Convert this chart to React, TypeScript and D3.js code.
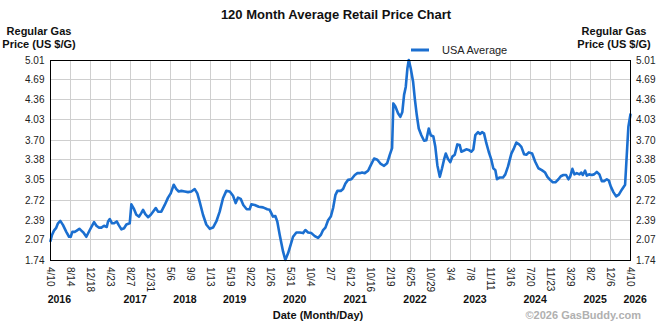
import React from "react";
import * as d3 from "d3";

const TITLE = "120 Month Average Retail Price Chart";
const SERIES_NAME = "USA Average";
const Y_TITLE = ["Regular Gas", "Price (US $/G)"];
const X_TITLE = "Date (Month/Day)";
const CREDIT = "\u00A92026 GasBuddy.com";

const Y_TICKS = [1.74, 2.07, 2.39, 2.72, 3.05, 3.38, 3.7, 4.03, 4.36, 4.69, 5.01];

const X_TICK_DATES = [
  "2016-04-10", "2016-08-14", "2016-12-18", "2017-04-23", "2017-08-27", "2017-12-31",
  "2018-05-06", "2018-09-09", "2019-01-13", "2019-05-19", "2019-09-22", "2020-01-26",
  "2020-05-31", "2020-10-04", "2021-02-07", "2021-06-12", "2021-10-16", "2022-02-19",
  "2022-06-25", "2022-10-29", "2023-03-04", "2023-07-08", "2023-11-11", "2024-03-16",
  "2024-07-20", "2024-11-23", "2025-03-29", "2025-08-02", "2025-12-06", "2026-04-10",
];

const YEAR_LABELS = ["2016", "2017", "2018", "2019", "2020", "2021", "2022", "2023", "2024", "2025", "2026"];
// decimal-year position of each year label's centre
const YEAR_LABEL_AT = [2016.425, 2017.73, 2018.592, 2019.449, 2020.483, 2021.523, 2022.557, 2023.592, 2024.626, 2025.661, 2026.35];

// [decimal year, price $/gal]
const USA_AVERAGE: [number, number][] = [
  [2016.273,2.05],[2016.299,2.15],[2016.333,2.22],[2016.368,2.26],[2016.402,2.34],[2016.442,2.38],[2016.489,2.31],[2016.545,2.20],[2016.592,2.12],[2016.621,2.12],[2016.649,2.20],[2016.690,2.20],[2016.725,2.22],[2016.770,2.25],[2016.804,2.22],[2016.839,2.19],[2016.890,2.12],[2016.949,2.23],[2016.994,2.31],
  [2017.023,2.36],[2017.063,2.30],[2017.104,2.27],[2017.149,2.27],[2017.195,2.30],[2017.242,2.28],[2017.264,2.37],[2017.294,2.41],[2017.333,2.34],[2017.368,2.34],[2017.414,2.37],[2017.449,2.31],[2017.494,2.24],[2017.540,2.26],[2017.580,2.32],[2017.638,2.34],[2017.666,2.65],[2017.713,2.57],[2017.752,2.48],[2017.799,2.45],[2017.839,2.51],[2017.868,2.56],[2017.907,2.49],[2017.954,2.44],
  [2018.001,2.48],[2018.040,2.53],[2018.087,2.59],[2018.126,2.53],[2018.183,2.53],[2018.242,2.64],[2018.299,2.76],[2018.345,2.83],[2018.397,2.97],[2018.442,2.90],[2018.483,2.86],[2018.528,2.87],[2018.587,2.86],[2018.644,2.85],[2018.701,2.86],[2018.759,2.90],[2018.804,2.83],[2018.845,2.69],[2018.902,2.48],[2018.959,2.32],
  [2019.018,2.25],[2019.075,2.27],[2019.132,2.37],[2019.190,2.53],[2019.247,2.75],[2019.304,2.87],[2019.363,2.86],[2019.420,2.79],[2019.466,2.67],[2019.506,2.76],[2019.552,2.74],[2019.597,2.64],[2019.656,2.57],[2019.707,2.57],[2019.735,2.65],[2019.794,2.64],[2019.863,2.61],[2019.937,2.60],
  [2020.011,2.57],[2020.052,2.56],[2020.109,2.45],[2020.149,2.46],[2020.183,2.37],[2020.225,2.15],[2020.282,1.88],[2020.321,1.74],[2020.368,1.85],[2020.414,1.99],[2020.454,2.12],[2020.511,2.19],[2020.570,2.19],[2020.626,2.18],[2020.666,2.23],[2020.713,2.19],[2020.770,2.18],[2020.828,2.13],[2020.885,2.10],[2020.932,2.15],[2020.971,2.23],
  [2021.011,2.27],[2021.057,2.39],[2021.104,2.45],[2021.144,2.59],[2021.183,2.80],[2021.218,2.87],[2021.276,2.87],[2021.316,2.90],[2021.356,2.99],[2021.402,3.05],[2021.459,3.06],[2021.518,3.13],[2021.563,3.16],[2021.604,3.16],[2021.644,3.17],[2021.690,3.16],[2021.747,3.20],[2021.794,3.29],[2021.851,3.40],[2021.907,3.38],[2021.966,3.31],
  [2022.023,3.28],[2022.075,3.32],[2022.121,3.46],[2022.161,3.57],[2022.183,4.30],[2022.218,4.25],[2022.264,4.14],[2022.304,4.08],[2022.338,4.16],[2022.368,4.44],[2022.397,4.57],[2022.425,4.87],[2022.449,5.01],[2022.483,4.87],[2022.523,4.66],[2022.553,4.38],[2022.587,4.11],[2022.621,3.89],[2022.666,3.78],[2022.713,3.69],[2022.752,3.70],[2022.794,3.89],[2022.828,3.78],[2022.873,3.76],[2022.907,3.59],[2022.942,3.29],[2022.984,3.10],
  [2023.023,3.24],[2023.057,3.38],[2023.087,3.48],[2023.126,3.39],[2023.166,3.34],[2023.201,3.43],[2023.242,3.46],[2023.287,3.63],[2023.328,3.62],[2023.356,3.51],[2023.402,3.53],[2023.442,3.55],[2023.483,3.54],[2023.528,3.51],[2023.563,3.55],[2023.597,3.78],[2023.644,3.83],[2023.678,3.80],[2023.713,3.83],[2023.747,3.81],[2023.787,3.65],[2023.828,3.51],[2023.873,3.38],[2023.907,3.24],[2023.942,3.21],[2023.971,3.06],
  [2024.018,3.09],[2024.075,3.09],[2024.114,3.14],[2024.161,3.27],[2024.218,3.48],[2024.264,3.57],[2024.304,3.66],[2024.351,3.63],[2024.390,3.59],[2024.437,3.47],[2024.476,3.46],[2024.518,3.50],[2024.575,3.48],[2024.627,3.35],[2024.683,3.24],[2024.742,3.21],[2024.799,3.17],[2024.838,3.10],[2024.885,3.05],[2024.931,3.01],[2024.976,3.01],
  [2025.028,3.06],[2025.069,3.11],[2025.114,3.13],[2025.161,3.13],[2025.200,3.06],[2025.229,3.10],[2025.269,3.23],[2025.304,3.14],[2025.345,3.16],[2025.390,3.14],[2025.420,3.17],[2025.449,3.13],[2025.488,3.20],[2025.518,3.12],[2025.557,3.14],[2025.604,3.13],[2025.643,3.14],[2025.690,3.18],[2025.735,3.14],[2025.776,3.03],[2025.816,3.03],[2025.863,3.06],[2025.897,3.04],[2025.932,2.94],[2025.976,2.85],
  [2026.023,2.78],[2026.070,2.81],[2026.121,2.89],[2026.178,2.97],[2026.207,3.46],[2026.235,3.92],[2026.270,4.12],
];

const W = 670;
const H = 325;
const M = { left: 50.5, right: 630.5, top: 60, bottom: 260 };
const FONT = "'Liberation Sans', Arial, Helvetica, sans-serif";
const LINE_COLOR = "#1b6fd0";
const GRID_COLOR = "#cfcfcf";

function decYearToDate(t: number): Date {
  const y = Math.floor(t);
  const a = new Date(y, 0, 1).getTime();
  const b = new Date(y + 1, 0, 1).getTime();
  return new Date(a + (t - y) * (b - a));
}

const parse = d3.timeParse("%Y-%m-%d");
const fmtTick = d3.timeFormat("%-m/%-d");

export default function App() {
  const tickDates = X_TICK_DATES.map((s) => parse(s) as Date);
  const x = d3
    .scaleTime()
    .domain([tickDates[0], tickDates[tickDates.length - 1]])
    .range([M.left, M.right]);
  const y = d3.scaleLinear().domain([1.74, 5.01]).range([M.bottom, M.top]);
  const crisp = (v: number) => Math.round(v - 0.5) + 0.5;

  const line = d3
    .line<[number, number]>()
    .x((d) => x(decYearToDate(d[0])))
    .y((d) => y(d[1]))
    .curve(d3.curveLinear);

  return (
    <svg
      width={W}
      height={H}
      style={{ position: "absolute", left: 0, top: 0, background: "#fff" }}
      fontFamily={FONT}
    >
      <rect x={0} y={0} width={W} height={H} fill="#fff" />
      {/* title */}
      <text x={336} y={19} textAnchor="middle" fontSize={13} fontWeight="bold" fill="#111">
        {TITLE}
      </text>
      {/* axis titles */}
      {Y_TITLE.map((t, i) => (
        <text key={"lt" + i} x={39} y={35 + i * 13} textAnchor="middle" fontSize={11} fontWeight="bold" fill="#111">
          {t}
        </text>
      ))}
      {Y_TITLE.map((t, i) => (
        <text key={"rt" + i} x={614} y={35 + i * 13} textAnchor="middle" fontSize={11} fontWeight="bold" fill="#111">
          {t}
        </text>
      ))}
      {/* legend */}
      <line x1={411} x2={429} y1={50} y2={50} stroke={LINE_COLOR} strokeWidth={3} />
      <text x={442} y={54} fontSize={11} fill="#222">
        {SERIES_NAME}
      </text>

      {/* grid */}
      {Y_TICKS.map((v) => (
        <line key={"gy" + v} x1={M.left} x2={M.right} y1={crisp(y(v))} y2={crisp(y(v))} stroke={GRID_COLOR} strokeWidth={1} />
      ))}
      {tickDates.map((d, i) => (
        <line key={"gx" + i} x1={crisp(x(d))} x2={crisp(x(d))} y1={M.top} y2={M.bottom} stroke={GRID_COLOR} strokeWidth={1} />
      ))}

      {/* series */}
      <path d={line(USA_AVERAGE) || ""} fill="none" stroke={LINE_COLOR} strokeWidth={2.6} strokeLinejoin="round" strokeLinecap="round" />

      {/* frame */}
      <rect x={crisp(M.left)} y={crisp(M.top)} width={M.right - M.left} height={M.bottom - M.top} fill="none" stroke="#000" strokeWidth={1} />

      {/* y tick labels */}
      {Y_TICKS.map((v) => (
        <g key={"yl" + v}>
          <text x={44.5} y={y(v)} dy="0.35em" textAnchor="end" fontSize={10} fill="#222">
            {v.toFixed(2)}
          </text>
          <text x={636} y={y(v)} dy="0.35em" textAnchor="start" fontSize={10} fill="#222">
            {v.toFixed(2)}
          </text>
        </g>
      ))}

      {/* x tick labels */}
      {tickDates.map((d, i) => (
        <text
          key={"xl" + i}
          transform={`translate(${x(d)},${267}) rotate(90)`}
          dy="0.35em"
          textAnchor="start"
          fontSize={10}
          fill="#222"
        >
          {fmtTick(d)}
        </text>
      ))}

      {/* year labels */}
      {YEAR_LABELS.map((yr, i) => (
        <text key={"yr" + yr} x={x(decYearToDate(YEAR_LABEL_AT[i]))} y={303} textAnchor="middle" fontSize={10.5} fontWeight="bold" fill="#111">
          {yr}
        </text>
      ))}

      <text x={318} y={319} textAnchor="middle" fontSize={11} fontWeight="bold" fill="#111">
        {X_TITLE}
      </text>
      <text x={641} y={319} textAnchor="end" fontSize={11} fontWeight="bold" fill="#b0b0b0">
        {CREDIT}
      </text>
    </svg>
  );
}
